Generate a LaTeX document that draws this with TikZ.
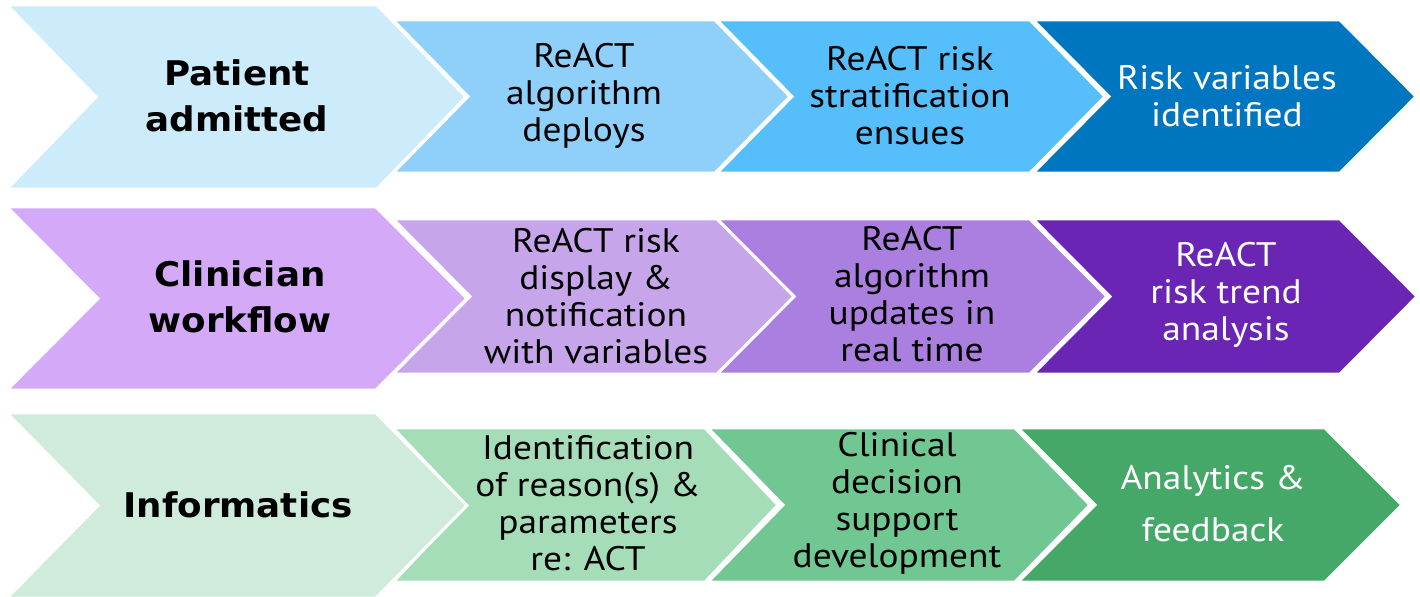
\documentclass[tikz,border=0pt]{standalone}
\usepackage{fontspec}
\setmainfont{PT Sans}[FakeStretch=1.1]
\newfontfamily\headfont{DejaVu Sans}[FakeStretch=1.05]

% row palettes: light to dark
\definecolor{bA}{RGB}{204,235,251}
\definecolor{bB}{RGB}{142,208,250}
\definecolor{bC}{RGB}{86,190,250}
\definecolor{bD}{RGB}{0,118,193}
\definecolor{pA}{RGB}{212,170,248}
\definecolor{pB}{RGB}{198,165,234}
\definecolor{pC}{RGB}{170,127,224}
\definecolor{pD}{RGB}{106,37,181}
\definecolor{gA}{RGB}{206,235,220}
\definecolor{gB}{RGB}{165,221,185}
\definecolor{gC}{RGB}{112,199,146}
\definecolor{gD}{RGB}{69,168,104}

\tikzset{
  chev/.style={draw=white, line width=2.2pt, line join=miter},
  lbl/.style={align=center, inner sep=0pt, text=black,
              font=\fontsize{25.5}{27.8}\selectfont},
  lblw/.style={lbl, text=white},
  head/.style={align=center, inner sep=0pt, text=black,
               font=\headfont\fontsize{25.5}{34.5}\selectfont\bfseries},
}

% chevron: #1 colour, #2 top-left x, #3 top-right x, #4 top y, #5 bottom y, #6 point depth
\newcommand\chevshape[6]{%
  \path[chev, fill=#1] (#2,#4) -- (#3,#4) -- ({#3+#6},{(#4+#5)/2}) -- (#3,#5)
    -- (#2,#5) -- ({#2+#6},{(#4+#5)/2}) -- cycle;}

\begin{document}
\begin{tikzpicture}[x=0.75pt, y=-0.75pt]
  \useasboundingbox (0,0) rectangle (1420,596);

  % row 1
  \chevshape{bD}{1033}{1340}{20}{173}{76}
  \chevshape{bC}{717}{1030}{20}{173}{75}
  \chevshape{bB}{393}{715}{20}{173}{75}
  \chevshape{bA}{7}{377}{5}{189}{89}

  % row 2
  \chevshape{pD}{1033}{1340}{219}{374}{77}
  \chevshape{pC}{717}{1030}{219}{374}{77}
  \chevshape{pB}{393}{717}{219}{374}{77}
  \chevshape{pA}{7}{376}{207}{390}{91}

  % row 3
  \chevshape{gD}{1018}{1325}{428}{582}{77}
  \chevshape{gC}{708}{1015}{428}{582}{75}
  \chevshape{gB}{393}{705}{428}{582}{73}
  \chevshape{gA}{7}{376}{413}{598}{91}

  % headings
  \node[head] (patient) at (237,96) {Patient\\admitted};
  \node[head] (clinician) at (240,297) {Clinician\\workflow};
  \node[head] (informatics) at (238,505) {Informatics};

  % row 1 steps
  \node[lbl] (deploy) at (584,96) {ReACT\\algorithm\\deploys};
  \node[lbl] (strat) at (910,96) {ReACT risk\\stratification\\ensues};
  \node[lblw] (vars) at (1227,96) {Risk variables\\identified};

  % row 2 steps
  \node[lbl] (display) at (596,296) {ReACT risk\\display \&\\notification\\with variables};
  \node[lbl] (update) at (912,294) {ReACT\\algorithm\\updates in\\real time};
  \node[lblw] (trend) at (1226,295) {ReACT\\risk trend\\analysis};

  % row 3 steps
  \node[lbl] (reason) at (588,503) {Identification\\of reason(s) \&\\parameters\\re: ACT};
  \node[lbl] (cds) at (897,503) {Clinical\\decision\\support\\development};
  \node[lblw, font=\fontsize{25.5}{39}\selectfont] (analytics) at (1213,504) {Analytics \&\\feedback};
\end{tikzpicture}
\end{document}
